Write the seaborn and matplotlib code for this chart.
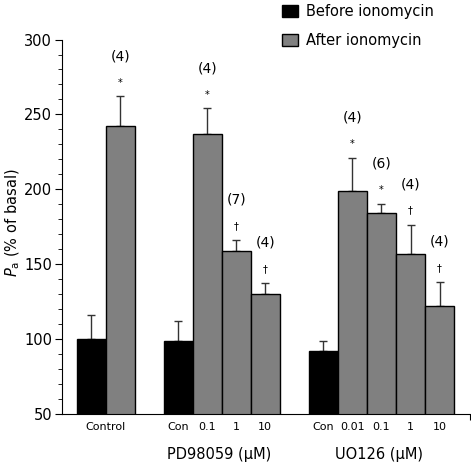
import numpy as np
import pandas as pd
import matplotlib
matplotlib.use("Agg")
import matplotlib.pyplot as plt
from matplotlib.patches import Patch
import seaborn as sns

# values (Pa, % of basal), mean and upward SEM
control_values = [100, 242]
control_sem = [16, 20]
control_n = ["", "(4)"]
control_mark = ["", "*"]

pd_doses = ["Con", "0.1", "1", "10"]
pd_values = [99, 237, 159, 130]
pd_sem = [13, 17, 7, 7.5]
pd_n = ["", "(4)", "(7)", "(4)"]
pd_mark = ["", "*", "\u2020", "\u2020"]

uo_doses = ["Con", "0.01", "0.1", "1", "10"]
uo_values = [92, 199, 184, 157, 122]
uo_sem = [7, 22, 6.5, 19.5, 16]
uo_n = ["", "(4)", "(6)", "(4)", "(4)"]
uo_mark = ["", "*", "*", "\u2020", "\u2020"]

sns.set_style("ticks")
plt.rcParams["font.family"] = ["DejaVu Sans"]
plt.rcParams.update({"text.color": "black", "axes.labelcolor": "black",
                     "xtick.color": "black", "ytick.color": "black",
                     "axes.edgecolor": "black"})

# build one table, one slot per bar, one empty slot between groups
rows = []
pos = 1
for vals, sems, ns, marks, labels in [
    (control_values, control_sem, control_n, control_mark, ["", ""]),
    (pd_values, pd_sem, pd_n, pd_mark, pd_doses),
    (uo_values, uo_sem, uo_n, uo_mark, uo_doses),
]:
    for i, v in enumerate(vals):
        rows.append(dict(x=pos, value=v, sem=sems[i], n=ns[i], mark=marks[i],
                         label=labels[i],
                         cond="Before ionomycin" if i == 0 else "After ionomycin"))
        pos += 1
    pos += 1
df = pd.DataFrame(rows)

colors = {"Before ionomycin": "black", "After ionomycin": "#808080"}

fig = plt.figure(figsize=(4.71, 4.65), dpi=100)
ax = fig.add_axes([0.1316, 0.1097, 0.8664, 0.8053])

sns.barplot(data=df, x="x", y="value", hue="cond", palette=colors,
            native_scale=True, dodge=False, width=1.0, edgecolor="black",
            linewidth=1, legend=False, errorbar=None, ax=ax)

ax.errorbar(df["x"], df["value"], yerr=[np.zeros(len(df)), df["sem"]],
            fmt="none", ecolor="#333333", elinewidth=1, capsize=3, capthick=1,
            zorder=0)

for _, r in df.iterrows():
    top = r["value"] + r["sem"]
    if r["mark"]:
        ax.annotate(r["mark"], (r["x"], top), xytext=(0, 10), textcoords="offset points",
                    ha="center", va="center", fontsize=7)
    if r["n"]:
        ax.annotate(r["n"], (r["x"], top), xytext=(0, 29), textcoords="offset points",
                    ha="center", va="center", fontsize=10)

ax.set_ylim(50, 300)
ax.set_xlim(0, 14.05)
ax.set_yticks([50, 100, 150, 200, 250, 300])
ax.set_yticks(np.arange(60, 300, 10), minor=True)
ax.tick_params(axis="y", which="major", length=5, labelsize=10.5, width=0.8, pad=2)
ax.tick_params(axis="y", which="minor", length=3, width=0.6)

# category labels: "Control" under the first pair, dose labels under the rest
tick_pos = [1.5] + list(df["x"][2:])
tick_lab = ["Control"] + list(df["label"][2:])
ax.set_xticks(tick_pos)
ax.set_xticklabels(tick_lab, fontsize=8)
ax.tick_params(axis="x", which="major", length=0, pad=6)
ax.set_xticks([14.05], minor=True)
ax.tick_params(axis="x", which="minor", length=4, width=0.8)
ax.set_xlabel("")

ax.text(5.4, -0.107, "PD98059 (\u03bcM)", transform=ax.get_xaxis_transform(),
        ha="center", va="center", fontsize=10.5)
ax.text(10.9, -0.107, "UO126 (\u03bcM)", transform=ax.get_xaxis_transform(),
        ha="center", va="center", fontsize=10.5)

ax.set_ylabel("$P_\\mathrm{a}$ (% of basal)", fontsize=10.5)
ax.yaxis.set_label_coords(-0.098, 0.51)

sns.despine(ax=ax)
for s in ["left", "bottom"]:
    ax.spines[s].set_linewidth(0.8)

handles = [Patch(facecolor=c, edgecolor="black", label=k) for k, c in colors.items()]
fig.legend(handles=handles, loc="upper left", bbox_to_anchor=(0.57, 1.02),
           frameon=False, fontsize=10.5, handlelength=1.1, handleheight=0.9,
           handletextpad=0.6, labelspacing=1.0)

fig.savefig("out.png", dpi=100)
